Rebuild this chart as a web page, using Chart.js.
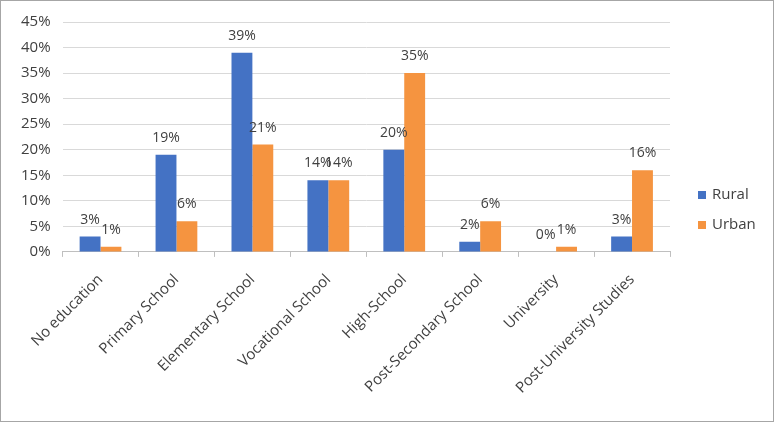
<!DOCTYPE html>
<html>
<head>
<meta charset="utf-8">
<script src="https://cdn.jsdelivr.net/npm/chart.js"></script>
<style>
  html, body { margin: 0; padding: 0; background: #fff; }
  #wrap { width: 774px; height: 422px; box-sizing: border-box; border: 1px solid #a6a6a6; }
  canvas { display: block; }
</style>
</head>
<body>
<div id="wrap"><canvas id="educationChart" width="772" height="420"></canvas></div>
<script>
const categories = ['No education', 'Primary School', 'Elementary School', 'Vocational School',
  'High-School', 'Post-Secondary School', 'University', 'Post-University Studies'];
const rural = [3, 19, 39, 14, 20, 2, 0, 3];
const urban = [1, 6, 21, 14, 35, 6, 1, 16];
const yTicks = [0, 5, 10, 15, 20, 25, 30, 35, 40, 45];

const textColor = '#404040';
const fontFamily = '"Open Sans", sans-serif';

// draws the percent labels above each bar
const valueLabels = {
  id: 'valueLabels',
  afterDatasetsDraw(chart) {
    const ctx = chart.ctx;
    ctx.save();
    ctx.font = '14px ' + fontFamily;
    ctx.fillStyle = textColor;
    ctx.textAlign = 'center';
    ctx.textBaseline = 'middle';
    chart.data.datasets.forEach((ds, i) => {
      chart.getDatasetMeta(i).data.forEach((bar, j) => {
        ctx.fillText(ds.data[j] + '%', bar.x, bar.y - 17);
      });
    });
    ctx.restore();
  }
};

// legend on the right, placed like the Excel one
const sideLegend = {
  id: 'sideLegend',
  afterDraw(chart) {
    const ctx = chart.ctx;
    ctx.save();
    ctx.font = '15px ' + fontFamily;
    ctx.textBaseline = 'middle';
    chart.data.datasets.forEach((ds, i) => {
      const y = 194 + i * 30;
      ctx.fillStyle = ds.backgroundColor;
      ctx.fillRect(697, y - 4, 8, 8);
      ctx.fillStyle = textColor;
      ctx.fillText(ds.label, 711, y);
    });
    ctx.restore();
  }
};

new Chart(document.getElementById('educationChart').getContext('2d'), {
  type: 'bar',
  data: {
    labels: categories,
    datasets: [
      { label: 'Rural', data: rural, backgroundColor: '#4472C4' },
      { label: 'Urban', data: urban, backgroundColor: '#F59440' }
    ]
  },
  options: {
    responsive: false,
    animation: false,
    datasets: { bar: { barPercentage: 1, categoryPercentage: 0.55 } },
    layout: { padding: { top: 6, left: 8, right: 103, bottom: 10 } },
    plugins: {
      tooltip: { enabled: false },
      legend: { display: false }
    },
    scales: {
      x: {
        grid: { offset: true, drawOnChartArea: false, tickLength: 5, color: '#bfbfbf' },
        border: { color: '#bfbfbf' },
        ticks: {
          minRotation: 45, maxRotation: 45, autoSkip: false, padding: 14,
          color: textColor, font: { family: fontFamily, size: 15 }
        }
      },
      y: {
        min: 0, max: 45,
        afterBuildTicks: (axis) => { axis.ticks = yTicks.map(v => ({ value: v })); },
        grid: { color: '#d9d9d9', drawTicks: false },
        border: { display: false },
        ticks: {
          padding: 12,
          callback: (v) => v + '%',
          color: textColor, font: { family: fontFamily, size: 15 }
        }
      }
    }
  },
  plugins: [valueLabels, sideLegend]
});
</script>
</body>
</html>
